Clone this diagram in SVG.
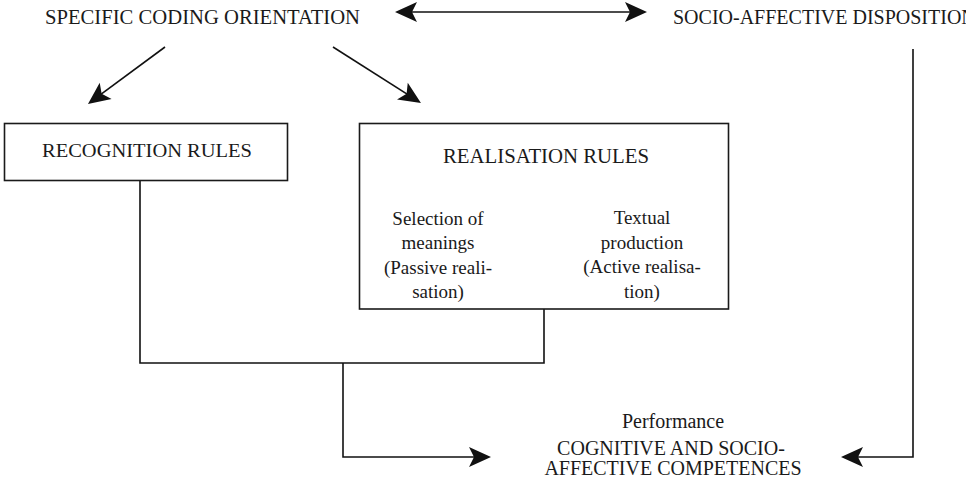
<svg xmlns="http://www.w3.org/2000/svg" width="966" height="480" viewBox="0 0 966 480">
  <style>
    .t { font-family: "Liberation Serif", "Times New Roman", serif; fill: #1a1a1a; }
    .big { font-size: 20px; }
    .mid { font-size: 19px; }
    .box { fill: #ffffff; stroke: #1a1a1a; stroke-width: 1.6; }
    .ln { fill: none; stroke: #111111; stroke-width: 1.6; }
  </style>
  <defs>
    <marker id="ah" viewBox="-16 -11 26 22" refX="0" refY="0" markerWidth="26" markerHeight="22" markerUnits="userSpaceOnUse" orient="auto-start-reverse">
      <path d="M8,0 L-14,-10 L-9,0 L-14,10 Z" fill="#111111"/>
    </marker>
  </defs>
  <rect width="966" height="480" fill="#ffffff"/>

  <g id="connectors">
    <line class="ln" x1="403" y1="12" x2="639" y2="12" marker-start="url(#ah)" marker-end="url(#ah)"/>
    <line class="ln" x1="165" y1="47" x2="94.4" y2="99.2" marker-end="url(#ah)"/>
    <line class="ln" x1="333" y1="47" x2="414.2" y2="98.7" marker-end="url(#ah)"/>
    <line class="ln" x1="497" y1="179" x2="450.6" y2="194.5" marker-end="url(#ah)"/>
    <line class="ln" x1="583" y1="179" x2="628.4" y2="194.4" marker-end="url(#ah)"/>
    <path class="ln" d="M140,180 V363 H544 V309"/>
    <path class="ln" d="M343,363 V457 H483" marker-end="url(#ah)"/>
    <path class="ln" d="M913,49 V457 H849" marker-end="url(#ah)"/>
  </g>

  <g id="specific-coding-orientation">
    <text class="t big" x="45" y="24" textLength="315" lengthAdjust="spacingAndGlyphs">SPECIFIC CODING ORIENTATION</text>
  </g>

  <g id="socio-affective-dispositions">
    <text class="t big" x="673" y="24">SOCIO-AFFECTIVE DISPOSITIONS</text>
  </g>

  <g id="recognition-rules">
    <rect class="box" x="4.5" y="123.5" width="283" height="57"/>
    <text class="t mid" x="42" y="157" textLength="210" lengthAdjust="spacingAndGlyphs">RECOGNITION RULES</text>
  </g>

  <g id="realisation-rules">
    <rect class="box" x="359.5" y="123.5" width="369" height="185.5"/>
    <text class="t big" x="443" y="163" textLength="206" lengthAdjust="spacingAndGlyphs">REALISATION RULES</text>
    <g class="t mid" text-anchor="middle">
      <text x="438" y="225">Selection of</text>
      <text x="438" y="249">meanings</text>
      <text x="438" y="274">(Passive reali-</text>
      <text x="438" y="298">sation)</text>
      <text x="642" y="224">Textual</text>
      <text x="642" y="249">production</text>
      <text x="642" y="273">(Active realisa-</text>
      <text x="642" y="298">tion)</text>
    </g>
  </g>

  <g id="performance">
    <g class="t big" text-anchor="middle">
      <text x="673" y="428">Performance</text>
      <text x="671" y="455">COGNITIVE AND SOCIO-</text>
      <text x="673" y="475">AFFECTIVE COMPETENCES</text>
    </g>
  </g>
</svg>
